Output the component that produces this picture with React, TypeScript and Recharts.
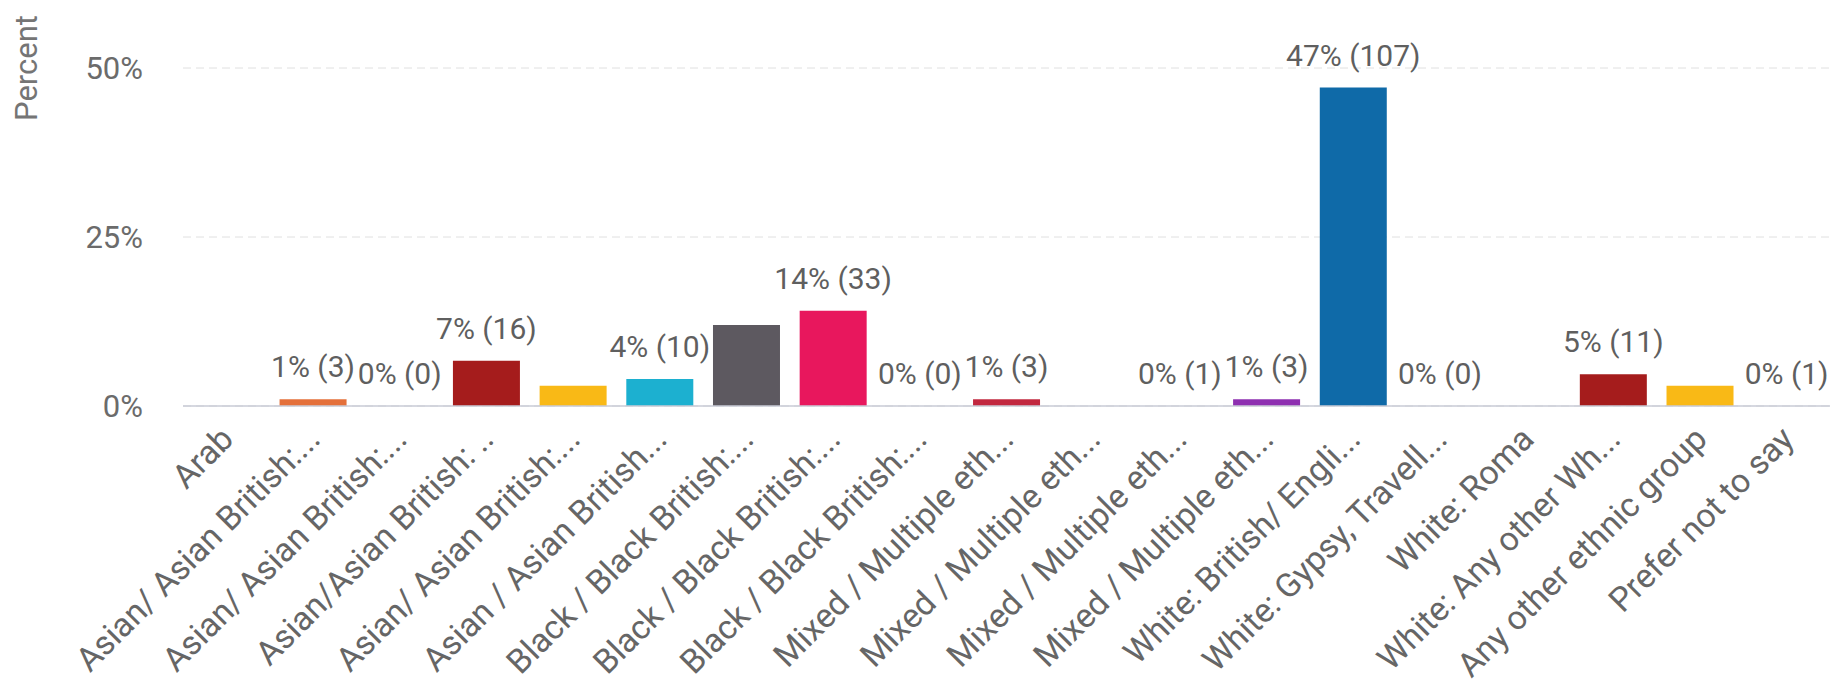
import { Bar, ComposedChart, CartesianGrid, Cell, LabelList, Line, XAxis, YAxis } from "recharts"

const categories = [
  "Arab",
  "Asian/ Asian British:...",
  "Asian/ Asian British:...",
  "Asian/Asian British: ..",
  "Asian/ Asian British:...",
  "Asian / Asian British...",
  "Black / Black British:...",
  "Black / Black British:...",
  "Black / Black British:...",
  "Mixed / Multiple eth...",
  "Mixed / Multiple eth...",
  "Mixed / Multiple eth...",
  "Mixed / Multiple eth...",
  "White: British/ Engli...",
  "White: Gypsy, Travell...",
  "White: Roma",
  "White: Any other Wh...",
  "Any other ethnic group",
  "Prefer not to say",
]

// percent of respondents
const percents = [0, 1, 0, 6.7, 3, 4, 12, 14.1, 0, 1, 0, 0, 1, 47.1, 0, 0, 4.7, 3, 0]

// labels shown above the bars ("" = hidden in the original)
const valueLabels = [
  "", "1% (3)", "0% (0)", "7% (16)", "", "4% (10)", "", "14% (33)", "0% (0)", "1% (3)",
  "", "0% (1)", "1% (3)", "47% (107)", "0% (0)", "", "5% (11)", "", "0% (1)",
]

const barColors = [
  "#e4703a", "#e4703a", "#e4703a", "#a51c1c", "#f9b916", "#1cb0d0", "#5d5960", "#e8175d", "#c2283f", "#c2283f",
  "#8e2fb0", "#8e2fb0", "#8e2fb0", "#0f6aa8", "#0f6aa8", "#0f6aa8", "#a51c1c", "#f9b916", "#f9b916",
]

const yTicks = [0, 25, 50]

const data = categories.map((name, i) => ({ id: i, name, pct: percents[i], label: valueLabels[i] }))

const FONT = "Roboto, 'Noto Sans', sans-serif"

function CategoryTick({ x, y, payload }: any) {
  return (
    <g transform={`translate(${x + 9},${y + 35})`}>
      <text textAnchor="end" transform="rotate(-45)" fill="#666" fontSize={33.5} fontFamily={FONT}>
        {categories[payload.value]}
      </text>
    </g>
  )
}

function PercentTick({ x, y, payload }: any) {
  return (
    <text x={x - 40} y={y} dy="0.35em" textAnchor="end" fill="#6b6b6b" fontSize={31} fontFamily={FONT}>
      {`${payload.value}%`}
    </text>
  )
}

function ValueLabel({ x, y, value }: any) {
  if (!value) return null
  return (
    <text x={x} y={y - 22} textAnchor="middle" fill="#5f5f5f" fontSize={30} fontFamily={FONT}>
      {value}
    </text>
  )
}

export default function App() {
  return (
    <div style={{ position: "absolute", left: 0, top: 0, background: "#fff" }}>
      <ComposedChart
        width={1845}
        height={687}
        data={data}
        margin={{ top: 68, right: 15, bottom: 0, left: 0 }}
        barCategoryGap="11.4%"
      >
        <CartesianGrid vertical={false} stroke="#e0e0e0" strokeDasharray="8 5" />
        <XAxis
          dataKey="id"
          height={281}
          tickLine={false}
          tickSize={0}
          tickMargin={0}
          interval={0}
          stroke="#c9cbd6"
          strokeWidth={1.5}
          tick={<CategoryTick />}
        />
        <YAxis
          width={183}
          domain={[0, 50]}
          ticks={yTicks}
          axisLine={false}
          tickLine={false}
          tickSize={0}
          tickMargin={0}
          tick={<PercentTick />}
          label={{
            content: () => (
              <text
                x={37}
                y={68}
                transform="rotate(-90, 37, 68)"
                textAnchor="middle"
                fill="#757575"
                fontSize={31}
                fontFamily={FONT}
              >
                Percent
              </text>
            ),
          }}
        />
        <Bar dataKey="pct" isAnimationActive={false}>
          {data.map((d, i) => (
            <Cell key={d.id} fill={barColors[i]} />
          ))}
        </Bar>
        {/* invisible series that carries the value labels, so zero bars get one too */}
        <Line
          dataKey="pct"
          stroke="none"
          dot={false}
          activeDot={false}
          legendType="none"
          isAnimationActive={false}
        >
          <LabelList dataKey="label" content={<ValueLabel />} />
        </Line>
      </ComposedChart>
    </div>
  )
}
